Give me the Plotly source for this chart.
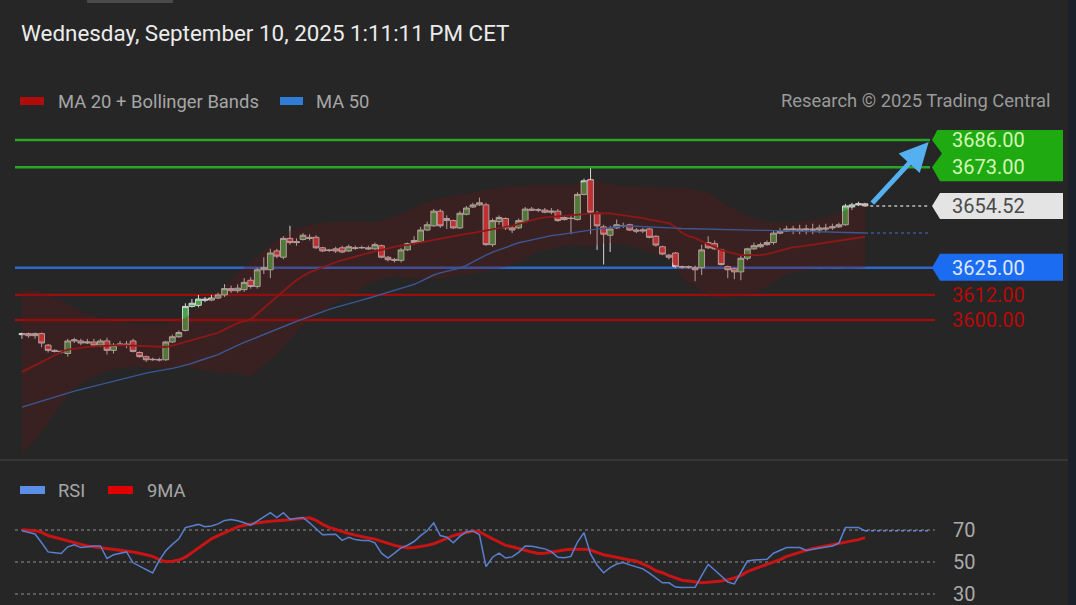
import plotly.graph_objects as go

W, H = 1076, 605
BG = "#262626"

# ---------------- data ----------------
idx = list(range(130))

opens = [3593.0, 3593.5, 3592.5, 3593.5, 3588.0, 3585.5, 3585.0, 3584.0, 3590.0, 3590.0,
         3589.0, 3589.5, 3588.0, 3590.0, 3585.5, 3588.0, 3588.5, 3590.0, 3584.5, 3582.5,
         3581.0, 3581.0, 3581.0, 3589.5, 3592.0, 3595.0, 3606.5, 3607.0, 3610.0, 3609.5,
         3610.5, 3612.0, 3615.0, 3614.0, 3614.5, 3619.0, 3616.0, 3624.0, 3624.0, 3633.0,
         3630.0, 3639.0, 3637.5, 3638.5, 3639.5, 3639.5, 3634.5, 3633.5, 3634.0, 3634.5,
         3633.0, 3634.5, 3634.5, 3634.5, 3634.0, 3635.5, 3630.0, 3629.0, 3628.5, 3633.5,
         3637.0, 3637.5, 3643.0, 3645.0, 3652.0, 3647.5, 3647.5, 3644.0, 3650.5, 3654.0,
         3655.0, 3655.0, 3636.0, 3647.0, 3648.5, 3644.0, 3644.0, 3647.0, 3653.0, 3652.5,
         3652.5, 3651.5, 3652.0, 3648.0, 3648.5, 3648.0, 3660.0, 3667.0, 3651.0, 3644.5,
         3640.5, 3644.0, 3645.0, 3645.5, 3643.0, 3642.5, 3643.5, 3640.0, 3635.0, 3631.0,
         3632.0, 3625.5, 3625.5, 3625.0, 3625.0, 3637.0, 3636.5, 3633.5, 3625.5, 3624.5,
         3623.0, 3629.5, 3634.0, 3635.0, 3636.0, 3637.0, 3641.5, 3642.5, 3643.0, 3643.5,
         3643.0, 3643.5, 3643.0, 3644.0, 3644.0, 3644.5, 3645.5, 3654.0, 3655.0, 3655.5]
highs = [3594.0, 3594.0, 3594.0, 3594.0, 3588.5, 3586.0, 3585.5, 3591.0, 3591.5, 3591.0,
         3591.0, 3591.0, 3591.0, 3591.5, 3589.0, 3590.0, 3590.0, 3591.0, 3585.0, 3583.0,
         3582.0, 3582.0, 3590.0, 3593.0, 3595.0, 3608.0, 3610.0, 3612.0, 3611.0, 3612.0,
         3613.0, 3617.0, 3616.5, 3617.0, 3620.0, 3620.5, 3625.0, 3630.0, 3634.0, 3634.0,
         3640.0, 3645.0, 3639.0, 3641.5, 3641.0, 3640.5, 3635.0, 3634.0, 3635.0, 3635.5,
         3636.0, 3635.5, 3635.5, 3635.5, 3637.0, 3636.0, 3630.5, 3629.5, 3634.5, 3637.0,
         3640.0, 3644.5, 3647.0, 3653.0, 3653.0, 3650.0, 3648.0, 3652.0, 3654.5, 3656.0,
         3658.5, 3656.0, 3648.5, 3650.0, 3649.0, 3645.0, 3648.5, 3654.0, 3654.0, 3653.5,
         3653.5, 3653.5, 3653.0, 3650.0, 3650.0, 3661.0, 3667.5, 3672.5, 3652.0, 3645.5,
         3645.0, 3648.0, 3646.5, 3646.0, 3644.0, 3644.0, 3644.0, 3640.5, 3635.5, 3631.5,
         3632.5, 3626.0, 3626.0, 3626.0, 3636.0, 3640.0, 3638.0, 3634.0, 3626.0, 3625.0,
         3630.5, 3634.5, 3637.0, 3637.0, 3638.0, 3642.5, 3644.0, 3645.0, 3645.0, 3645.5,
         3645.5, 3646.0, 3645.5, 3646.0, 3646.0, 3646.5, 3655.5, 3656.0, 3656.5, 3656.0]
lows = [3591.0, 3591.5, 3591.0, 3587.0, 3584.5, 3584.5, 3584.0, 3582.5, 3589.0, 3588.0,
        3588.5, 3587.0, 3587.0, 3583.5, 3584.0, 3587.5, 3586.5, 3584.5, 3582.0, 3580.0,
        3580.5, 3580.2, 3580.5, 3589.0, 3591.5, 3594.5, 3606.0, 3606.0, 3608.5, 3609.0,
        3610.0, 3611.0, 3613.0, 3613.0, 3613.5, 3615.0, 3615.0, 3622.0, 3620.0, 3629.5,
        3629.0, 3636.0, 3635.5, 3638.0, 3638.0, 3634.0, 3632.5, 3632.5, 3632.0, 3632.0,
        3632.5, 3633.5, 3634.0, 3633.5, 3633.5, 3629.5, 3628.0, 3627.5, 3627.5, 3633.0,
        3636.0, 3637.0, 3642.5, 3644.5, 3644.0, 3643.5, 3643.5, 3643.5, 3650.0, 3653.5,
        3654.5, 3635.5, 3635.0, 3645.5, 3643.0, 3641.5, 3643.5, 3646.5, 3652.0, 3651.5,
        3651.0, 3650.5, 3647.0, 3647.5, 3641.0, 3647.5, 3659.5, 3641.0, 3633.5, 3626.5,
        3632.5, 3643.5, 3644.0, 3642.5, 3641.5, 3641.5, 3639.0, 3635.0, 3631.0, 3629.0,
        3625.0, 3624.5, 3624.5, 3618.5, 3621.5, 3634.0, 3633.5, 3626.0, 3620.0, 3619.5,
        3619.0, 3628.5, 3633.5, 3634.5, 3635.5, 3636.0, 3641.0, 3642.0, 3641.0, 3641.0,
        3641.0, 3641.0, 3641.5, 3642.0, 3643.0, 3644.0, 3645.0, 3652.5, 3654.5, 3654.0]
closes = [3593.5, 3592.5, 3593.5, 3589.0, 3585.5, 3585.0, 3584.8, 3590.0, 3590.5, 3589.0,
          3589.5, 3588.0, 3590.0, 3585.5, 3588.0, 3588.5, 3588.0, 3585.0, 3582.5, 3581.0,
          3581.2, 3581.0, 3589.5, 3592.0, 3594.0, 3606.5, 3608.0, 3610.0, 3609.5, 3610.5,
          3612.0, 3615.0, 3614.0, 3615.2, 3618.0, 3616.0, 3624.0, 3625.0, 3632.0, 3630.5,
          3639.0, 3637.0, 3637.0, 3640.5, 3639.0, 3634.5, 3633.0, 3633.2, 3633.0, 3632.5,
          3635.0, 3634.3, 3634.6, 3634.0, 3636.0, 3630.0, 3628.8, 3628.5, 3633.5, 3636.5,
          3638.0, 3643.0, 3645.5, 3652.0, 3645.0, 3648.5, 3644.0, 3651.0, 3653.5, 3655.0,
          3656.0, 3636.0, 3647.5, 3649.0, 3644.0, 3643.0, 3647.5, 3653.0, 3652.5, 3652.6,
          3651.5, 3652.0, 3647.5, 3649.0, 3648.6, 3660.0, 3666.5, 3651.5, 3645.0, 3641.0,
          3643.5, 3645.5, 3645.1, 3643.0, 3642.5, 3643.0, 3639.5, 3635.8, 3631.5, 3630.0,
          3625.5, 3625.3, 3625.3, 3624.0, 3633.5, 3634.5, 3634.0, 3626.5, 3624.0, 3623.0,
          3629.5, 3634.0, 3635.5, 3636.0, 3637.0, 3641.5, 3642.5, 3643.5, 3643.5, 3642.5,
          3643.5, 3643.0, 3644.0, 3643.5, 3644.5, 3645.5, 3654.5, 3655.0, 3655.5, 3654.52]

ma20 = [3575.2, 3576.8, 3578.5, 3580.0, 3581.4, 3583.0, 3584.7, 3585.9, 3586.4, 3586.9,
        3587.2, 3587.4, 3587.6, 3587.8, 3588.0, 3588.0, 3587.9, 3587.8, 3587.6, 3587.4,
        3587.3, 3587.2, 3587.1, 3587.8, 3588.8, 3589.6, 3590.4, 3591.2, 3592.1, 3593.0,
        3593.9, 3595.5, 3597.0, 3598.5, 3599.4, 3600.3, 3603.0, 3605.8, 3608.3, 3611.0,
        3613.8, 3616.5, 3619.0, 3621.0, 3622.8, 3623.9, 3625.2, 3626.5, 3627.6, 3628.6,
        3629.5, 3630.4, 3631.2, 3632.0, 3632.8, 3633.5, 3634.3, 3635.0, 3635.6, 3635.9,
        3636.5, 3637.1, 3637.8, 3638.4, 3639.0, 3639.6, 3640.1, 3640.6, 3641.1, 3641.6,
        3642.2, 3642.8, 3643.3, 3643.8, 3644.3, 3645.0, 3645.9, 3646.8, 3647.8, 3648.6,
        3649.0, 3649.3, 3649.6, 3649.8, 3650.1, 3650.4, 3650.6, 3650.8, 3651.0, 3651.1,
        3650.9, 3650.5, 3650.1, 3649.7, 3649.3, 3648.7, 3648.0, 3647.4, 3646.7, 3646.3,
        3644.4, 3641.6, 3640.1, 3639.2, 3637.7, 3636.3, 3634.6, 3633.4, 3632.5, 3631.8,
        3631.0, 3631.0, 3631.0, 3631.0, 3631.5, 3632.4, 3633.2, 3634.1, 3634.8, 3635.1,
        3635.6, 3636.0, 3636.5, 3636.8, 3637.3, 3637.9, 3638.4, 3638.9, 3639.3, 3639.7]

bb_upper = [3614.3, 3614.3, 3613.9, 3613.4, 3611.9, 3610.5, 3609.5, 3607.6, 3605.7, 3604.3,
            3602.8, 3601.9, 3600.9, 3600.0, 3599.5, 3599.0, 3598.6, 3598.1, 3597.6, 3597.6,
            3597.6, 3597.6, 3597.6, 3599.0, 3600.0, 3600.9, 3603.8, 3606.2, 3608.1, 3610.5,
            3613.4, 3616.2, 3619.1, 3622.5, 3625.3, 3627.7, 3630.1, 3633.0, 3635.8, 3638.2,
            3640.1, 3642.5, 3643.5, 3644.4, 3645.4, 3645.9, 3646.3, 3646.8, 3646.8, 3646.8,
            3646.8, 3646.8, 3646.8, 3646.8, 3646.8, 3647.3, 3648.3, 3649.2, 3650.6, 3652.1,
            3653.5, 3654.9, 3656.4, 3657.3, 3658.3, 3658.8, 3659.2, 3659.7, 3660.2, 3661.2,
            3661.6, 3662.1, 3662.6, 3663.1, 3663.5, 3663.5, 3664.0, 3664.0, 3664.5, 3664.5,
            3664.5, 3664.5, 3664.5, 3664.5, 3664.5, 3665.0, 3665.9, 3666.9, 3666.4, 3665.5,
            3665.0, 3664.5, 3664.0, 3664.0, 3664.0, 3663.5, 3663.5, 3663.5, 3663.1, 3663.1,
            3663.1, 3662.6, 3662.6, 3662.1, 3661.6, 3660.7, 3658.8, 3656.9, 3654.5, 3652.6,
            3651.1, 3649.7, 3648.7, 3647.8, 3646.8, 3646.8, 3646.3, 3646.3, 3646.8, 3646.8,
            3647.3, 3647.8, 3648.3, 3649.2, 3650.2, 3651.1, 3652.6, 3653.5, 3654.0, 3654.5]

bb_lower = [3536.1, 3539.3, 3543.1, 3546.6, 3550.9, 3555.5, 3559.9, 3564.2, 3567.1, 3569.5,
            3571.6, 3572.9, 3574.3, 3575.6, 3576.5, 3577.0, 3577.2, 3577.5, 3577.6, 3577.2,
            3577.0, 3576.8, 3576.6, 3576.6, 3577.6, 3578.3, 3577.0, 3576.2, 3576.1, 3575.5,
            3574.4, 3574.8, 3574.9, 3574.5, 3573.5, 3572.9, 3575.9, 3578.6, 3580.8, 3583.8,
            3587.5, 3590.5, 3594.5, 3597.6, 3600.2, 3601.9, 3604.1, 3606.2, 3608.4, 3610.4,
            3612.2, 3614.0, 3615.6, 3617.2, 3618.8, 3619.7, 3620.3, 3620.8, 3620.6, 3619.7,
            3619.5, 3619.3, 3619.2, 3619.5, 3619.7, 3620.4, 3621.0, 3621.5, 3622.0, 3622.0,
            3622.8, 3623.5, 3624.0, 3624.5, 3625.1, 3626.5, 3627.8, 3629.6, 3631.1, 3632.7,
            3633.5, 3634.1, 3634.7, 3635.1, 3635.7, 3635.8, 3635.3, 3634.7, 3635.6, 3636.7,
            3636.8, 3636.5, 3636.2, 3635.4, 3634.6, 3633.9, 3632.5, 3631.3, 3630.3, 3629.5,
            3625.7, 3620.6, 3617.6, 3616.3, 3613.8, 3611.9, 3610.4, 3609.9, 3610.5, 3611.0,
            3610.9, 3612.3, 3613.3, 3614.2, 3616.2, 3618.0, 3620.1, 3621.9, 3622.8, 3623.4,
            3623.9, 3624.2, 3624.7, 3624.4, 3624.4, 3624.7, 3624.2, 3624.3, 3624.6, 3624.9]

ma50 = [3558.4, 3559.4, 3560.3, 3561.2, 3562.2, 3563.2, 3564.2, 3565.1, 3566.0, 3566.8,
        3567.6, 3568.4, 3569.2, 3570.0, 3570.9, 3571.6, 3572.5, 3573.2, 3573.9, 3574.6,
        3575.2, 3575.7, 3576.1, 3576.9, 3577.6, 3578.3, 3579.3, 3580.4, 3581.5, 3582.5,
        3583.5, 3585.0, 3586.5, 3588.0, 3589.3, 3590.5, 3591.8, 3593.2, 3594.4, 3595.6,
        3596.8, 3598.1, 3599.3, 3600.5, 3601.8, 3603.0, 3604.1, 3605.1, 3606.0, 3606.8,
        3607.6, 3608.5, 3609.5, 3610.4, 3611.3, 3612.2, 3613.3, 3614.2, 3615.1, 3615.8,
        3617.0, 3618.5, 3620.0, 3621.5, 3622.5, 3623.3, 3624.1, 3624.8, 3626.1, 3627.8,
        3629.4, 3631.0, 3632.4, 3633.6, 3634.8, 3635.9, 3636.9, 3637.6, 3638.3, 3639.0,
        3639.7, 3640.3, 3640.7, 3641.2, 3641.7, 3642.2, 3642.6, 3643.0, 3643.4, 3643.8,
        3644.2, 3644.6, 3644.9, 3644.9, 3644.8, 3644.7, 3644.6, 3644.4, 3644.2, 3644.0,
        3643.9, 3643.7, 3643.6, 3643.5, 3643.5, 3643.4, 3643.3, 3643.2, 3643.2, 3643.1,
        3643.0, 3643.0, 3642.9, 3642.8, 3642.8, 3642.7, 3642.6, 3642.6, 3642.5, 3642.5,
        3642.4, 3642.3, 3642.2, 3642.1, 3642.0, 3641.9, 3641.8, 3641.7, 3641.6, 3641.6]

rsi = [69.5, 68.5, 67.5, 62.0, 56.3, 55.8, 55.3, 59.5, 60.8, 59.0,
       59.5, 60.0, 60.0, 52.2, 54.5, 55.6, 56.3, 49.5, 47.5, 45.5,
       43.2, 51.0, 57.0, 61.0, 64.5, 71.5, 72.5, 73.5, 72.0, 72.5,
       73.8, 76.0, 76.5, 75.8, 74.5, 73.0, 75.5, 78.0, 80.8, 77.8,
       80.8, 76.7, 77.2, 77.8, 74.5, 71.0, 67.0, 67.2, 67.4, 63.5,
       65.5, 64.0, 63.5, 63.5, 62.0, 55.5, 52.5, 55.5, 58.8, 60.5,
       62.8, 66.5, 69.5, 74.5, 66.5, 65.5, 62.0, 66.0, 68.8, 69.4,
       67.0, 47.1, 53.0, 55.5, 52.5, 53.2, 56.0, 60.0, 59.8, 59.0,
       58.2, 56.5, 53.0, 52.7, 53.5, 62.5, 68.3, 55.0, 48.0, 43.3,
       46.5, 48.7, 49.6, 48.2, 47.0, 45.7, 43.0, 40.2, 37.0, 37.0,
       34.3, 34.0, 34.0, 34.2, 41.5, 48.5, 45.0, 41.2, 37.5, 36.3,
       43.0, 50.6, 51.3, 51.7, 51.7, 55.5, 57.5, 59.0, 59.0, 59.0,
       57.2, 58.0, 59.0, 59.4, 60.0, 61.8, 71.5, 71.5, 71.5, 69.5]

rsi_ma9 = [70.2, 70.0, 69.6, 68.5, 66.5, 65.5, 64.3, 63.0, 62.0, 61.0,
           60.0, 59.5, 59.0, 58.5, 58.0, 57.5, 57.0, 56.3, 55.5, 54.5,
           53.5, 51.5, 50.2, 50.5, 51.2, 53.0, 55.8, 58.5, 61.5, 64.5,
           66.5, 68.5, 70.5, 72.0, 73.0, 73.8, 74.5, 75.0, 75.5, 75.7,
           76.0, 76.4, 76.8, 77.2, 77.6, 76.0, 73.5, 71.6, 70.2, 69.0,
           67.8, 66.8, 65.8, 65.0, 64.3, 63.0, 61.5, 60.4, 59.5, 58.8,
           59.0, 59.6, 60.4, 61.4, 63.0, 65.0, 66.5, 67.5, 68.5, 69.3,
           69.0, 66.5, 64.5, 62.5, 60.4, 59.5, 58.2, 57.3, 56.2, 55.3,
           55.5, 56.2, 57.0, 57.5, 57.9, 58.0, 58.0, 57.5, 56.0, 54.5,
           53.8, 52.8, 52.0, 51.2, 50.6, 49.0, 47.0, 44.5, 43.3, 41.5,
           40.0, 38.6, 38.1, 37.5, 37.1, 37.3, 37.6, 38.1, 39.0, 40.0,
           41.5, 44.0, 45.6, 47.0, 48.3, 49.8, 51.5, 53.5, 54.8, 56.0,
           57.3, 58.5, 59.2, 60.0, 61.0, 61.5, 62.2, 63.0, 64.0, 65.2]

resistance_levels = [3686.00, 3673.00]
support_level = 3625.00
red_levels = [3612.00, 3600.00]
last_price = closes[-1]
rsi_levels = [70, 50, 30]

title_text = "Wednesday, September 10, 2025 1:11:11 PM CET"
credit_text = "Research \u00a9 2025 Trading Central"

# ---------------- layout geometry ----------------
def px(x):
    return x / W

def py(y):
    return 1 - y / H

X0_PX, STEP_PX = 22.0, 6.535
x_range = [(0 - X0_PX) / STEP_PX, (W - X0_PX) / STEP_PX]
PRICE_TOP_PX, PRICE_BOT_PX = 130, 458
price_range = [3534.07, 3690.78]
RSI_TOP_PX, RSI_BOT_PX = 505, 605
rsi_range = [23.125, 85.625]
ppu = (PRICE_BOT_PX - PRICE_TOP_PX) / (price_range[1] - price_range[0])
LINE_X0, LINE_X1 = 15, 930
x_line_end = (LINE_X1 - X0_PX) / STEP_PX

FONT = "Roboto, Arial, sans-serif"
fig = go.Figure()

# Bollinger band
fig.add_trace(go.Scatter(x=idx, y=bb_upper, mode="lines", line=dict(width=0, color="rgba(0,0,0,0)"),
                         hoverinfo="skip", showlegend=False))
fig.add_trace(go.Scatter(x=idx, y=bb_lower, mode="lines", line=dict(width=0, color="rgba(0,0,0,0)"),
                         fill="tonexty", fillcolor="rgba(105,22,22,0.30)", hoverinfo="skip", showlegend=False))
# MA 20 and MA 50
fig.add_trace(go.Scatter(x=idx, y=ma20, mode="lines", line=dict(width=1.8, color="#8e1818"), showlegend=False))
fig.add_trace(go.Scatter(x=idx, y=ma50, mode="lines", line=dict(width=1.4, color="#3a5895"), showlegend=False))

# candles
fig.add_trace(go.Candlestick(
    x=idx, open=opens, high=highs, low=lows, close=closes,
    increasing=dict(line=dict(color="#d6d6d6", width=1), fillcolor="#46a447"),
    decreasing=dict(line=dict(color="#d6d6d6", width=1), fillcolor="#e43b3b"),
    whiskerwidth=0, showlegend=False))

# RSI panel
fig.add_trace(go.Scatter(x=idx, y=rsi_ma9, mode="lines", line=dict(width=3, color="#c81414"),
                         xaxis="x", yaxis="y2", showlegend=False))
fig.add_trace(go.Scatter(x=idx, y=rsi, mode="lines", line=dict(width=1.5, color="#5a7fcf"),
                         xaxis="x", yaxis="y2", showlegend=False))

shapes = []
# right dark strip and divider
shapes.append(dict(type="rect", xref="paper", yref="paper", x0=px(1068), x1=1, y0=0, y1=1,
                   fillcolor="#1b212a", line=dict(width=0), layer="below"))
shapes.append(dict(type="rect", xref="paper", yref="paper", x0=px(87), x1=px(173), y0=py(3), y1=1,
                   fillcolor="#4a4a4a", line=dict(width=0), layer="below"))
shapes.append(dict(type="line", xref="paper", yref="paper", x0=0, x1=px(1068), y0=py(460), y1=py(460),
                   line=dict(color="#3b3b3b", width=1.5)))

# level lines
for lv in resistance_levels:
    shapes.append(dict(type="line", xref="paper", yref="y", x0=px(LINE_X0), x1=px(LINE_X1), y0=lv, y1=lv,
                       line=dict(color="#2aa52a", width=2.4), layer="below"))
shapes.append(dict(type="line", xref="paper", yref="y", x0=px(LINE_X0), x1=px(LINE_X1 + 5),
                   y0=support_level, y1=support_level, line=dict(color="#2f68cc", width=2.4), layer="below"))
for lv in red_levels:
    shapes.append(dict(type="line", xref="paper", yref="y", x0=px(LINE_X0), x1=px(LINE_X1 + 5), y0=lv, y1=lv,
                       line=dict(color="#9e0c0c", width=2.4), layer="below"))
# dotted extensions
shapes.append(dict(type="line", xref="x", yref="y", x0=idx[-1] + 0.8, x1=x_line_end, y0=last_price, y1=last_price,
                   line=dict(color="#bdbdbd", width=1.5, dash="dot")))
shapes.append(dict(type="line", xref="x", yref="y", x0=idx[-1], x1=x_line_end, y0=ma50[-1], y1=ma50[-1],
                   line=dict(color="#3a5895", width=1.5, dash="dot")))
shapes.append(dict(type="line", xref="x", yref="y2", x0=idx[-1], x1=x_line_end, y0=rsi[-1], y1=rsi[-1],
                   line=dict(color="#6b8ad6", width=1.5, dash="dot")))
for lv in rsi_levels:
    shapes.append(dict(type="line", xref="paper", yref="y2", x0=px(LINE_X0), x1=px(935), y0=lv, y1=lv,
                       line=dict(color="#6e6e6e", width=1.3, dash="dot"), layer="below"))

# tags (pixel-sized paths anchored at the level value)
def tag_shape(level, color, up, down, mid_levels=()):
    path = f"M 940,{up} L 1063,{up} L 1063,{-down} L 940,{-down} "
    pts = sorted([0.0] + [-(level - m) * ppu for m in mid_levels])
    for k, p in enumerate(pts):
        path += f"L 932,{p:.2f} "
        if k < len(pts) - 1:
            path += f"L 942,{(p + pts[k + 1]) / 2:.2f} "
    path += "Z"
    return dict(type="path", xref="paper", yref="y", xsizemode="pixel", ysizemode="pixel",
                xanchor=0, yanchor=level, path=path, fillcolor=color, line=dict(width=0))

gap = (resistance_levels[0] - resistance_levels[1]) * ppu
shapes.append(tag_shape(resistance_levels[0], "#1faa12", 15, gap + 14, mid_levels=[resistance_levels[1]]))
shapes.append(tag_shape(last_price, "#e4e4e4", 13, 13))
shapes.append(tag_shape(support_level, "#1c6cf2", 14, 13))

annotations = []
annotations.append(dict(xref="paper", yref="paper", x=px(19), y=py(33), xanchor="left", yanchor="middle",
                        text=title_text, showarrow=False, font=dict(family=FONT, size=22.4, color="#ececec")))
annotations.append(dict(xref="paper", yref="paper", x=px(1053), y=py(100), xanchor="right", yanchor="middle",
                        text=credit_text, showarrow=False, font=dict(family=FONT, size=18.4, color="#9a9a9a")))

legend_items = [(20, 44, "#b00c0c", 56, "MA 20 + Bollinger Bands", 101),
                (280, 303, "#2f7dd6", 314, "MA 50", 101),
                (20, 45, "#5b8ee6", 56, "RSI", 490),
                (108, 133, "#e00000", 145, "9MA", 490)]
for x0, x1, c, tx, t, yy in legend_items:
    shapes.append(dict(type="rect", xref="paper", yref="paper", x0=px(x0), x1=px(x1), y0=py(yy + 4), y1=py(yy - 4),
                       fillcolor=c, line=dict(width=0)))
    annotations.append(dict(xref="paper", yref="paper", x=px(tx), y=py(yy), xanchor="left", yanchor="middle",
                            text=t, showarrow=False, font=dict(family=FONT, size=18.4, color="#a6a6a6")))

for lv in resistance_levels:
    annotations.append(dict(xref="paper", yref="y", x=px(950), y=lv, xanchor="left", yanchor="middle",
                            text=f"{lv:.2f}", showarrow=False, font=dict(family=FONT, size=20, color="#d4f7b8")))
annotations.append(dict(xref="paper", yref="y", x=px(950), y=last_price, xanchor="left", yanchor="middle",
                        text=f"{last_price:.2f}", showarrow=False, font=dict(family=FONT, size=20, color="#4a4a4a")))
annotations.append(dict(xref="paper", yref="y", x=px(950), y=support_level, xanchor="left", yanchor="middle",
                        text=f"{support_level:.2f}", showarrow=False, font=dict(family=FONT, size=20, color="#dce8ff")))
for lv in red_levels:
    annotations.append(dict(xref="paper", yref="y", x=px(950), y=lv, xanchor="left", yanchor="middle",
                            text=f"{lv:.2f}", showarrow=False, font=dict(family=FONT, size=20, color="#b80808")))
for lv in rsi_levels:
    annotations.append(dict(xref="paper", yref="y2", x=px(951), y=lv, xanchor="left", yanchor="middle",
                            text=f"{lv}", showarrow=False, font=dict(family=FONT, size=20, color="#aaaaaa")))

# target arrow
annotations.append(dict(xref="x", yref="y", axref="x", ayref="y",
                        x=x_line_end - 0.2, y=resistance_levels[0] - 1.0,
                        ax=idx[-1] + 0.9, ay=last_price + 0.6,
                        text="", showarrow=True, arrowhead=2, arrowsize=1.15, arrowwidth=5,
                        arrowcolor="#55b0ef", standoff=0, startstandoff=0))

fig.update_layout(
    width=W, height=H, margin=dict(l=0, r=0, t=0, b=0),
    paper_bgcolor=BG, plot_bgcolor=BG, showlegend=False,
    shapes=shapes, annotations=annotations,
    boxgap=0.12, boxgroupgap=0.0,
    xaxis=dict(range=x_range, visible=False, showgrid=False, zeroline=False,
               rangeslider=dict(visible=False), fixedrange=True),
    yaxis=dict(domain=[py(PRICE_BOT_PX), py(PRICE_TOP_PX)], range=price_range, visible=False,
               showgrid=False, zeroline=False),
    yaxis2=dict(domain=[py(RSI_BOT_PX), py(RSI_TOP_PX)], range=rsi_range, visible=False,
                showgrid=False, zeroline=False, anchor="x"),
    hovermode=False,
)

fig.write_html("out.html")
